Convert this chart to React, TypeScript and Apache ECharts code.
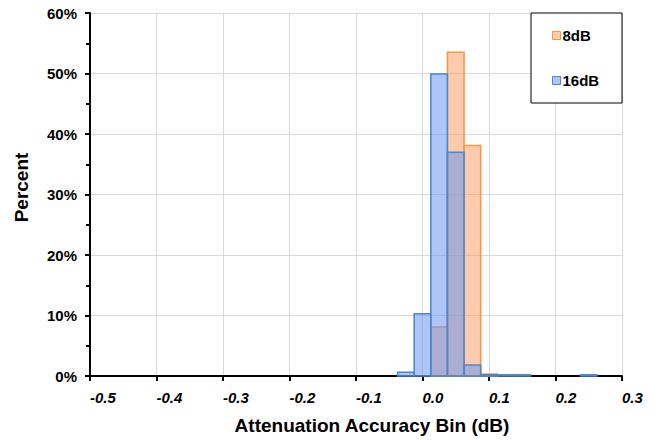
import React, { useEffect, useRef } from "react";
import * as echarts from "echarts";

const binCenters = [-0.025, 0, 0.025, 0.05, 0.075, 0.1, 0.125, 0.15, 0.25];
const pct8dB = [0, 0, 8.1, 53.5, 38.1, 0.35, 0, 0, 0];
const pct16dB = [0.6, 10.3, 49.9, 37.0, 1.8, 0.2, 0.2, 0.2, 0.2];
const binWidth = 0.025;
const seriesNames = ["8dB", "16dB"];

const FONT = '"Liberation Sans", Arial, sans-serif';

const ORANGE_FILL = "rgba(250,150,90,0.5)";
const ORANGE_LINE = "#f79646";
const BLUE_FILL = "rgba(106,151,240,0.55)";
const BLUE_LINE = "#4a86cc";

function makeSeries(name: string, values: number[], fill: string, line: string) {
  return {
    type: "custom",
    name,
    data: binCenters.map((c, i) => [c, values[i]]),
    itemStyle: { color: fill, borderColor: line },
    renderItem: (params: any, api: any) => {
      const c = api.value(0);
      const v = api.value(1);
      if (!v) return null;
      const p0 = api.coord([c - binWidth / 2, v]);
      const p1 = api.coord([c + binWidth / 2, 0]);
      return {
        type: "rect",
        shape: { x: p0[0], y: p0[1], width: p1[0] - p0[0], height: p1[1] - p0[1] },
        style: { fill, stroke: line, lineWidth: 1.5 },
      };
    },
  };
}

export default function App() {
  const ref = useRef<HTMLDivElement>(null);
  useEffect(() => {
    if (!ref.current) return;
    const chart = echarts.init(ref.current, undefined, { renderer: "svg" });
    chart.setOption({
      animation: false,
      textStyle: { fontFamily: FONT },
      grid: { left: 90, right: 36, top: 13, bottom: 64, outerBoundsMode: "none", containLabel: false },
      xAxis: {
        type: "value",
        min: -0.5,
        max: 0.3,
        interval: 0.1,
        name: "Attenuation Accuracy Bin (dB)",
        nameLocation: "middle",
        nameGap: 40,
        nameTextStyle: { fontFamily: FONT, fontWeight: "bold", fontSize: 19, color: "#000", padding: [0, 0, 0, 32] },
        axisLine: { onZero: false, lineStyle: { color: "#000", width: 2 } },
        axisTick: { show: true, length: 5, lineStyle: { color: "#000", width: 2 } },
        axisLabel: {
          align: "left",
          margin: 14,
          fontFamily: FONT,
          fontWeight: "bold",
          fontStyle: "italic",
          fontSize: 15,
          color: "#000",
          formatter: (v: number) => (Math.abs(v) < 1e-9 ? "0.0" : v.toFixed(1)),
        },
        splitLine: { show: true, lineStyle: { color: "#d9d9d9", width: 1 } },
      },
      yAxis: {
        type: "value",
        min: 0,
        max: 60,
        interval: 10,
        name: "Percent",
        nameLocation: "middle",
        nameGap: 59,
        nameTextStyle: { fontFamily: FONT, fontWeight: "bold", fontSize: 19, color: "#000", padding: [0, 0, 0, 14] },
        axisLine: { show: true, onZero: false, lineStyle: { color: "#000", width: 2 } },
        axisTick: { show: true, length: 5, lineStyle: { color: "#000", width: 2 } },
        minorTick: { show: true, splitNumber: 2, length: 4, lineStyle: { color: "#000", width: 2 } },
        axisLabel: {
          margin: 13,
          fontFamily: FONT,
          fontWeight: "bold",
          fontSize: 15,
          color: "#000",
          formatter: (v: number) => v + "%",
        },
        splitLine: { show: true, lineStyle: { color: "#d9d9d9", width: 1 } },
      },
      legend: {
        orient: "vertical",
        left: 552,
        top: 28,
        padding: 0,
        itemWidth: 8,
        itemHeight: 8,
        itemGap: 30,
        icon: "rect",
        z: 5,
        textStyle: { fontFamily: FONT, fontWeight: "bold", fontSize: 15, color: "#000", lineHeight: 15, padding: [0, 0, 0, -3] },
        data: [
          { name: seriesNames[0], itemStyle: { color: ORANGE_FILL, borderColor: ORANGE_LINE, borderWidth: 1 } },
          { name: seriesNames[1], itemStyle: { color: BLUE_FILL, borderColor: BLUE_LINE, borderWidth: 1 } },
        ],
      },
      graphic: [
        {
          type: "rect",
          z: 3,
          shape: { x: 531, y: 13, width: 91, height: 90 },
          style: { fill: "#fff", stroke: "#000", lineWidth: 1 },
        },
      ],
      series: [
        makeSeries(seriesNames[0], pct8dB, ORANGE_FILL, ORANGE_LINE),
        makeSeries(seriesNames[1], pct16dB, BLUE_FILL, BLUE_LINE),
      ],
    });
    return () => chart.dispose();
  }, []);
  return <div ref={ref} style={{ position: "absolute", left: 0, top: 0, width: 658, height: 440 }} />;
}
